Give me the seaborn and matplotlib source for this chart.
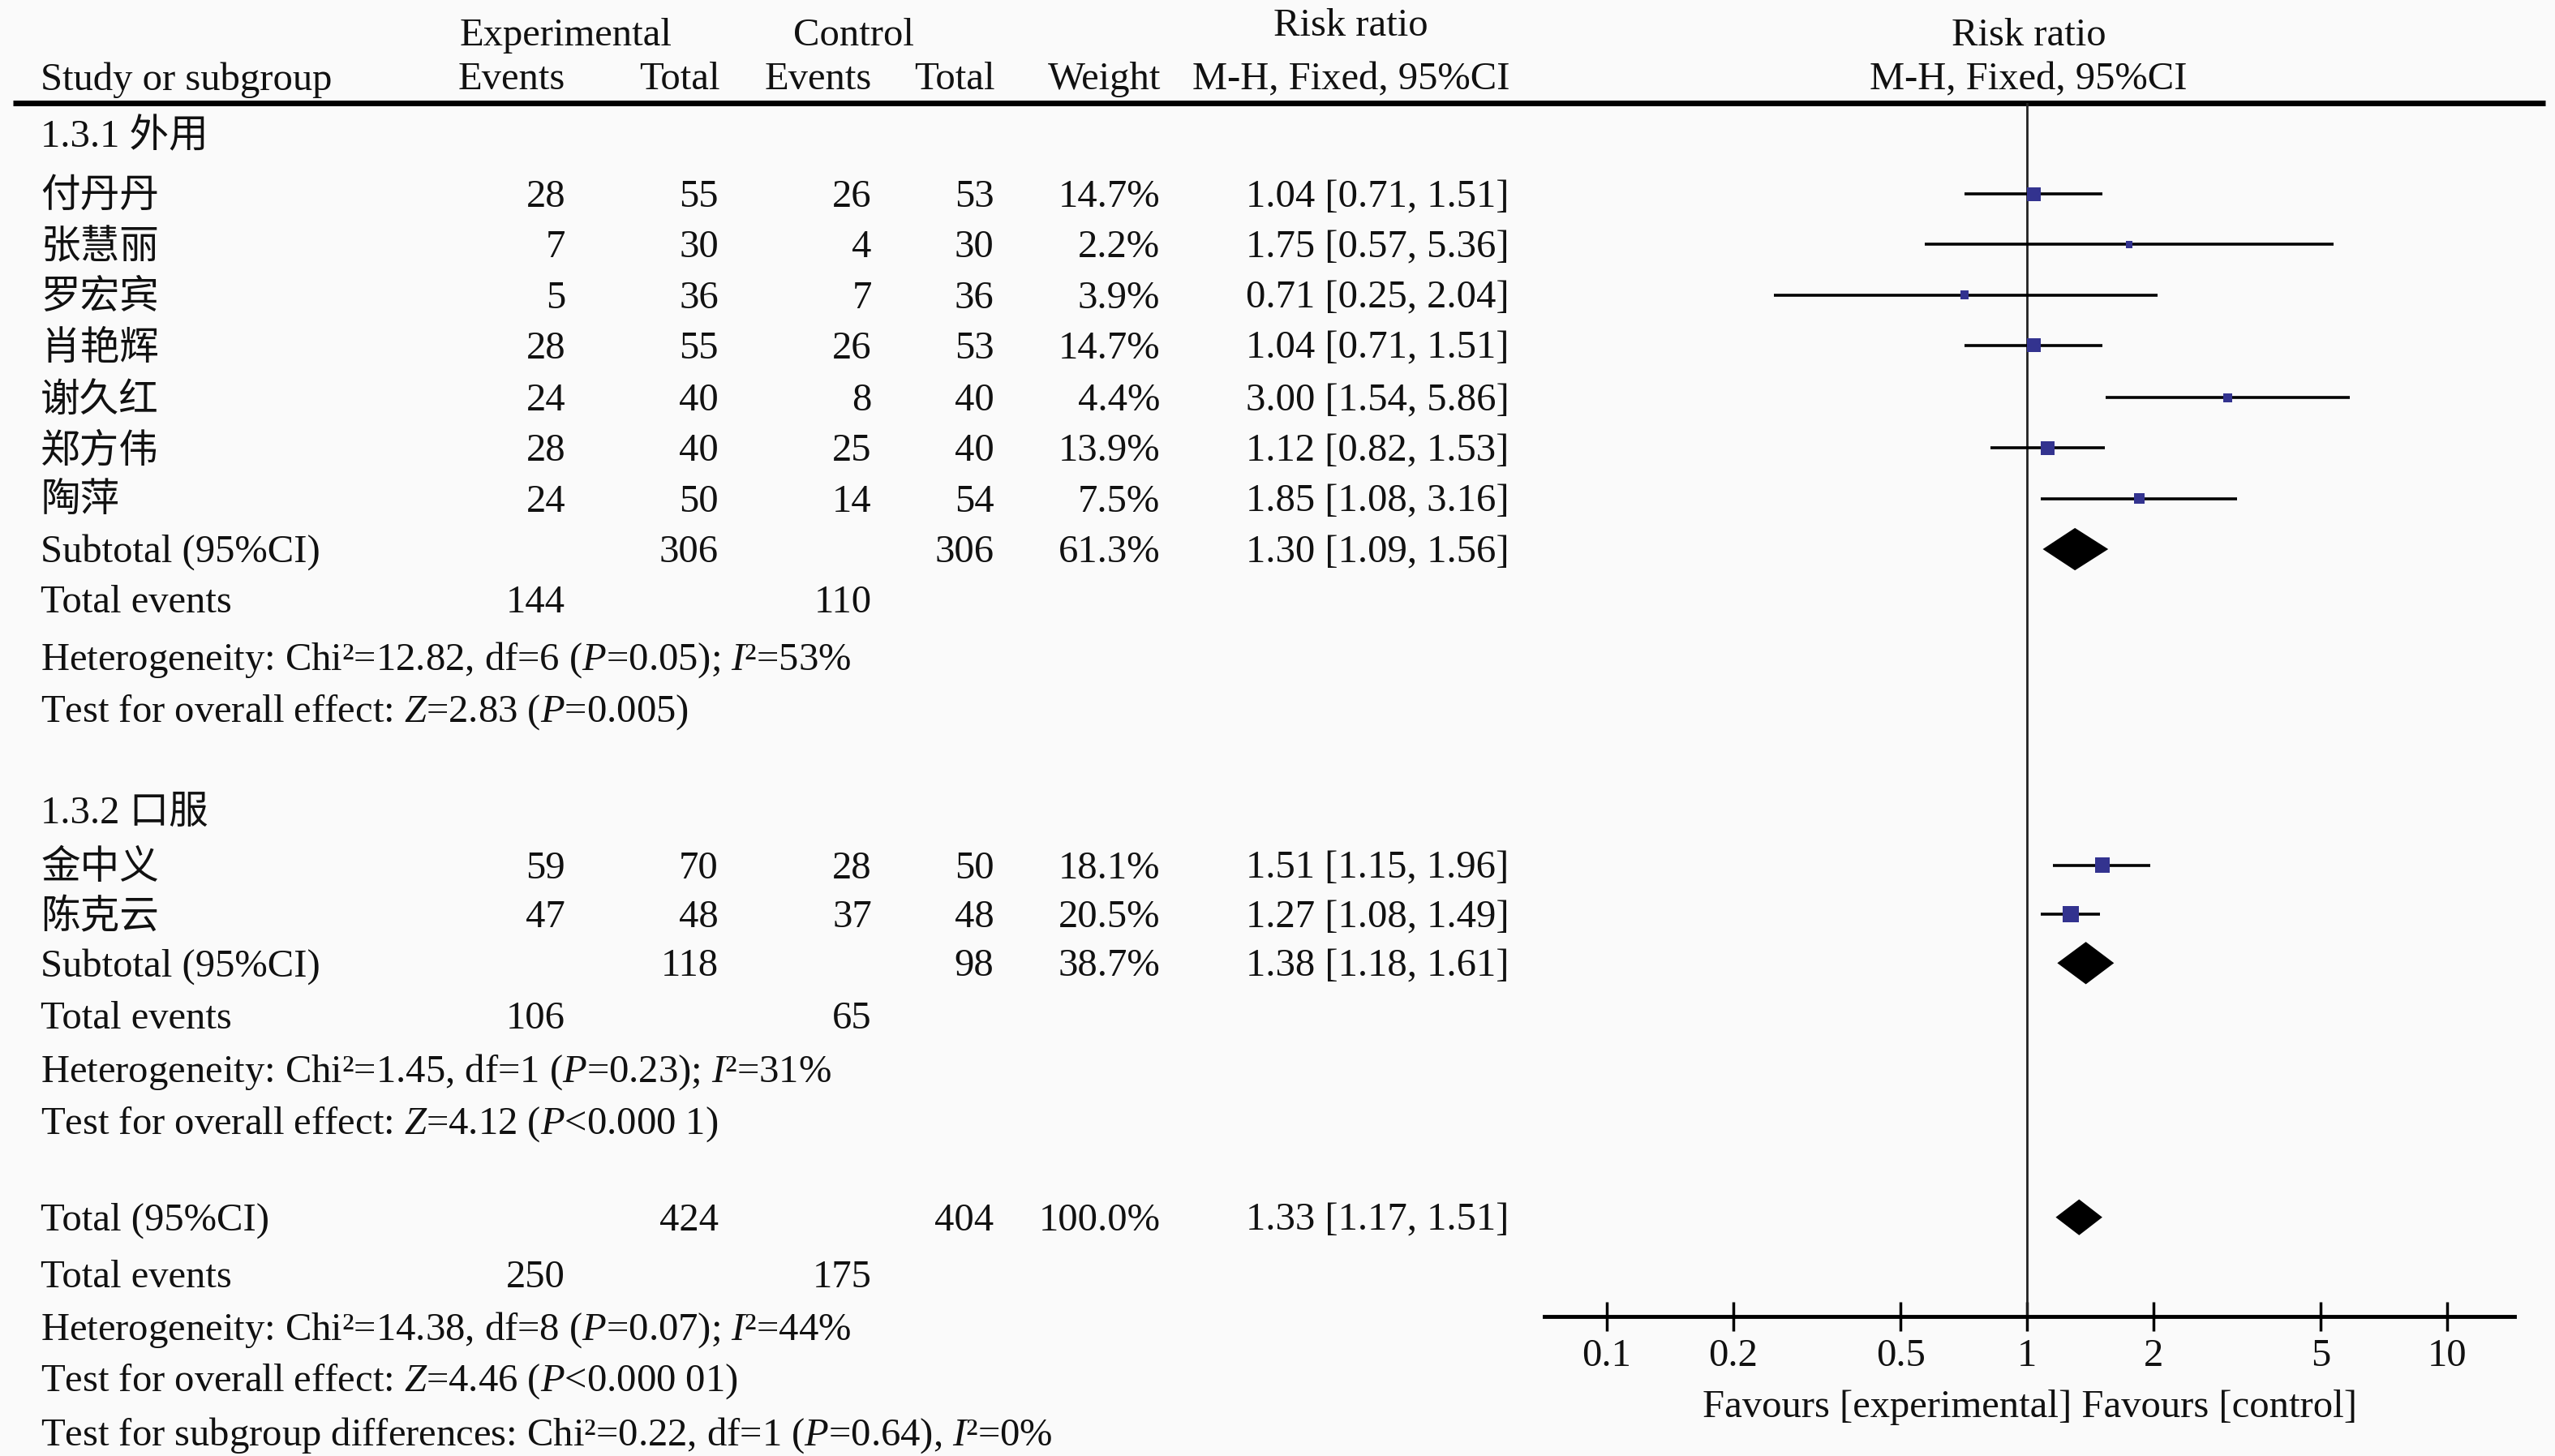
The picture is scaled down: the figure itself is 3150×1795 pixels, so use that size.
import numpy as np
import pandas as pd
import matplotlib
matplotlib.use("Agg")
import matplotlib.pyplot as plt
import seaborn as sns

# study level data
studies = ['付丹丹', '张慧丽', '罗宏宾', '肖艳辉', '谢久红', '郑方伟', '陶萍', '金中义', '陈克云']
exp_events = [28, 7, 5, 28, 24, 28, 24, 59, 47]
exp_total = [55, 30, 36, 55, 40, 40, 50, 70, 48]
ctrl_events = [26, 4, 7, 26, 8, 25, 14, 28, 37]
ctrl_total = [53, 30, 36, 53, 40, 40, 54, 50, 48]
weight = [14.7, 2.2, 3.9, 14.7, 4.4, 13.9, 7.5, 18.1, 20.5]
rr = [1.04, 1.75, 0.71, 1.04, 3.00, 1.12, 1.85, 1.51, 1.27]
ci_low = [0.71, 0.57, 0.25, 0.71, 1.54, 0.82, 1.08, 1.15, 1.08]
ci_high = [1.51, 5.36, 2.04, 1.51, 5.86, 1.53, 3.16, 1.96, 1.49]

# subgroups
groups = ['1.3.1 外用', '1.3.2 口服']
sub_exp_total = [306, 118]
sub_ctrl_total = [306, 98]
sub_weight = [61.3, 38.7]
sub_rr = [1.30, 1.38]
sub_low = [1.09, 1.18]
sub_high = [1.56, 1.61]
sub_exp_events = [144, 106]
sub_ctrl_events = [110, 65]
sub_het = ['Heterogeneity: Chi²=12.82, df=6 ($P$=0.05); $I$²=53%',
           'Heterogeneity: Chi²=1.45, df=1 ($P$=0.23); $I$²=31%']
sub_effect = ['Test for overall effect: $Z$=2.83 ($P$=0.005)',
              'Test for overall effect: $Z$=4.12 ($P$<0.000 1)']

# overall
tot_exp_total, tot_ctrl_total = 424, 404
tot_weight = 100.0
tot_rr, tot_low, tot_high = 1.33, 1.17, 1.51
tot_exp_events, tot_ctrl_events = 250, 175
tot_het = 'Heterogeneity: Chi²=14.38, df=8 ($P$=0.07); $I$²=44%'
tot_effect = 'Test for overall effect: $Z$=4.46 ($P$<0.000 01)'
subgroup_test = 'Test for subgroup differences: Chi²=0.22, df=1 ($P$=0.64), $I$²=0%'

tick_vals = [0.1, 0.2, 0.5, 1, 2, 5, 10]
tick_labels = ['0.1', '0.2', '0.5', '1', '2', '5', '10']

# layout (reference units, 1568 x 894)
study_y = [119, 150, 181, 212, 244, 275, 306, 531, 561]
group_y = [82, 497]
subtotal_y = [337, 591]
events_y = [368, 623]
het_y = [403, 656]
effect_y = [435, 688]
total_y, total_ev_y, total_het_y, total_eff_y, subgroup_y = 747, 782, 814, 846, 879
col_x = {'ee': 347, 'et': 441, 'ce': 535, 'ct': 610, 'w': 712, 'rr': 926}

sns.set_theme(style='white')
plt.rcParams['font.family'] = ['Liberation Serif', 'Noto Sans CJK SC']
plt.rcParams['mathtext.fontset'] = 'custom'
plt.rcParams['mathtext.rm'] = 'Liberation Serif'
plt.rcParams['mathtext.it'] = 'Liberation Serif:italic'
FS = 35
bg = '#fafafa'

fig = plt.figure(figsize=(31.5, 17.95), dpi=100, facecolor=bg)
tab = fig.add_axes([0, 0, 1, 1])
tab.set_xlim(0, 1568)
tab.set_ylim(893.5, 0)
tab.axis('off')
tab.patch.set_alpha(0)


def put(x, y, s, ha='left'):
    tab.text(x, y + 2, s, ha=ha, va='center', fontsize=FS, color='#111111')


# header
put(347, 20, 'Experimental', 'center')
put(524, 20, 'Control', 'center')
put(829, 14, 'Risk ratio', 'center')
put(25, 47, 'Study or subgroup')
put(314, 47, 'Events', 'center')
put(417, 47, 'Total', 'center')
put(502, 47, 'Events', 'center')
put(586, 47, 'Total', 'center')
put(678, 47, 'Weight', 'center')
put(829, 47, 'M-H, Fixed, 95%CI', 'center')
put(1245, 20, 'Risk ratio', 'center')
put(1245, 47, 'M-H, Fixed, 95%CI', 'center')
tab.plot([8, 1562], [63, 63], color='black', lw=5, solid_capstyle='butt')

# study rows
for i, name in enumerate(studies):
    y = study_y[i]
    put(25, y, name)
    put(col_x['ee'], y, str(exp_events[i]), 'right')
    put(col_x['et'], y, str(exp_total[i]), 'right')
    put(col_x['ce'], y, str(ctrl_events[i]), 'right')
    put(col_x['ct'], y, str(ctrl_total[i]), 'right')
    put(col_x['w'], y, f'{weight[i]:.1f}%', 'right')
    put(col_x['rr'], y, f'{rr[i]:.2f} [{ci_low[i]:.2f}, {ci_high[i]:.2f}]', 'right')

# subgroup rows
for g in range(2):
    put(25, group_y[g], groups[g])
    y = subtotal_y[g]
    put(25, y, 'Subtotal (95%CI)')
    put(col_x['et'], y, str(sub_exp_total[g]), 'right')
    put(col_x['ct'], y, str(sub_ctrl_total[g]), 'right')
    put(col_x['w'], y, f'{sub_weight[g]:.1f}%', 'right')
    put(col_x['rr'], y, f'{sub_rr[g]:.2f} [{sub_low[g]:.2f}, {sub_high[g]:.2f}]', 'right')
    put(25, events_y[g], 'Total events')
    put(col_x['ee'], events_y[g], str(sub_exp_events[g]), 'right')
    put(col_x['ce'], events_y[g], str(sub_ctrl_events[g]), 'right')
    put(25, het_y[g], sub_het[g])
    put(25, effect_y[g], sub_effect[g])

# overall rows
put(25, total_y, 'Total (95%CI)')
put(col_x['et'], total_y, str(tot_exp_total), 'right')
put(col_x['ct'], total_y, str(tot_ctrl_total), 'right')
put(col_x['w'], total_y, f'{tot_weight:.1f}%', 'right')
put(col_x['rr'], total_y, f'{tot_rr:.2f} [{tot_low:.2f}, {tot_high:.2f}]', 'right')
put(25, total_ev_y, 'Total events')
put(col_x['ee'], total_ev_y, str(tot_exp_events), 'right')
put(col_x['ce'], total_ev_y, str(tot_ctrl_events), 'right')
put(25, total_het_y, tot_het)
put(25, total_eff_y, tot_effect)
put(25, subgroup_y, subgroup_test)

# forest panel
ax = fig.add_axes([948 / 1568, 1 - 808 / 893.5, (1543 - 948) / 1568, (808 - 63) / 893.5])
ax.patch.set_alpha(0)
ax.set_xscale('log')
ax.set_xlim(10 ** (-1 - 38 / 258), 10 ** (1 + 41 / 258))
ax.set_ylim(808, 63)

df = pd.DataFrame({'study': studies, 'rr': rr, 'lo': ci_low, 'hi': ci_high,
                   'weight': weight, 'y': study_y})
ax.axvline(1, color='#222222', lw=2, zorder=1)
ax.hlines(df['y'], df['lo'], df['hi'], color='black', lw=2.6, zorder=2)
sns.scatterplot(data=df, x='rr', y='y', size='weight', sizes=(40, 200),
                size_norm=(min(weight), max(weight)), marker='s', color='#33338f',
                edgecolor='none', legend=False, zorder=3, ax=ax)

diamonds = [(sub_rr[0], sub_low[0], sub_high[0], subtotal_y[0], 13),
            (sub_rr[1], sub_low[1], sub_high[1], subtotal_y[1], 13),
            (tot_rr, tot_low, tot_high, total_y, 11)]
for est, lo, hi, y, h in diamonds:
    ax.fill([lo, est, hi, est], [y, y - h, y, y + h], color='black', lw=0, zorder=3)

for s in ['left', 'top', 'right']:
    ax.spines[s].set_visible(False)
ax.spines['bottom'].set_linewidth(3.5)
ax.spines['bottom'].set_color('black')
ax.set_xticks(tick_vals)
ax.set_xticklabels(tick_labels)
ax.minorticks_off()
ax.tick_params(axis='x', which='major', direction='inout', length=26, width=2.5,
               color='black', labelsize=FS, pad=6, labelcolor='#111111', bottom=True)
ax.set_yticks([])
ax.set_ylabel('')
ax.set_xlabel('Favours [experimental] Favours [control]', fontsize=FS, labelpad=14, color='#111111')

fig.savefig('out.png', dpi=100, facecolor=bg)
